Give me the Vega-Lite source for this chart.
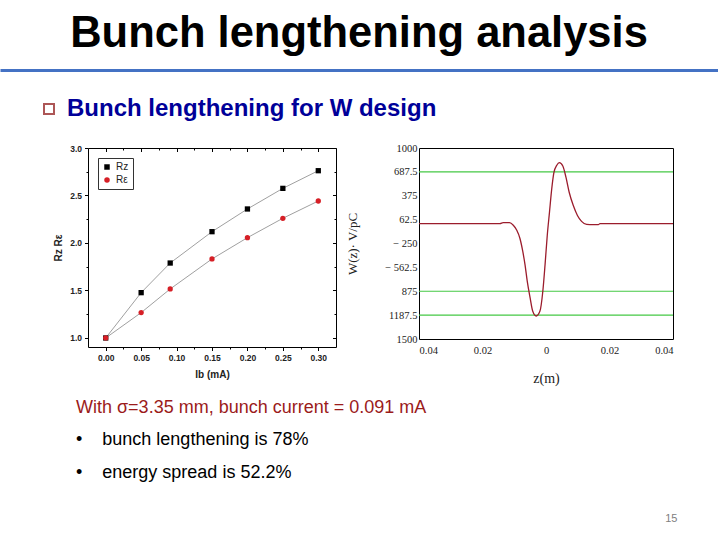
{
  "$schema": "https://vega.github.io/schema/vega-lite/v6.json",
  "background": "white",
  "padding": {"left": 0, "top": 11, "right": 0, "bottom": 0},
  "title": {"text": "Bunch lengthening analysis", "fontSize": 43.5, "fontWeight": "bold", "font": "Liberation Sans", "color": "black", "anchor": "middle", "offset": 14},
  "config": {"font": "Liberation Sans", "view": {"stroke": "black"}, "axis": {"grid": false}},
  "resolve": {"scale": {"shape": "independent", "color": "independent"}, "legend": {"shape": "independent", "color": "independent"}},
  "spacing": 21,
  "vconcat": [
    {
      "width": 718,
      "height": 0,
      "view": {"stroke": null},
      "data": {"values": [{"heading": "Bunch lengthening for W design"}]},
      "mark": {"type": "point", "size": 0, "color": "#8b1010", "strokeWidth": 2},
      "encoding": {
        "x": {"field": "heading", "type": "nominal", "axis": {"orient": "top", "domainColor": "#4472C4", "domainWidth": 3, "labels": false, "ticks": false, "title": null}},
        "shape": {"field": "heading", "type": "nominal", "scale": {"range": ["square"]},
          "legend": {"orient": "none", "legendX": 37, "legendY": 27, "title": null, "symbolSize": 100, "symbolStrokeColor": "#8b1010", "symbolFillColor": "white", "symbolStrokeWidth": 2, "labelFontSize": 24, "labelFont": "Liberation Sans", "labelFontWeight": "bold", "labelColor": "#000099", "labelLimit": 0, "labelOffset": 6}}
      }
    },
    {
      "spacing": 12,
      "resolve": {"scale": {"shape": "independent", "color": "independent"}, "legend": {"shape": "independent", "color": "independent"}},
      "vconcat": [
        {
          "spacing": 9,
          "resolve": {"scale": {"shape": "independent", "color": "independent"}, "legend": {"shape": "independent", "color": "independent"}},
          "hconcat": [
            {"width": 44, "height": 10, "view": {"stroke": null}, "data": {"values": []}, "mark": "point"},
            {
              "width": 248,
              "height": 199,
              "data": {"values": [
                {"ib": 0, "series": "Rz", "r": 1.0},
                {"ib": 0.05, "series": "Rz", "r": 1.477},
                {"ib": 0.091, "series": "Rz", "r": 1.789},
                {"ib": 0.15, "series": "Rz", "r": 2.119},
                {"ib": 0.2, "series": "Rz", "r": 2.358},
                {"ib": 0.25, "series": "Rz", "r": 2.575},
                {"ib": 0.3, "series": "Rz", "r": 2.761},
                {"ib": 0, "series": "Rε", "r": 1.0},
                {"ib": 0.05, "series": "Rε", "r": 1.267},
                {"ib": 0.091, "series": "Rε", "r": 1.516},
                {"ib": 0.15, "series": "Rε", "r": 1.832},
                {"ib": 0.2, "series": "Rε", "r": 2.056},
                {"ib": 0.25, "series": "Rε", "r": 2.26},
                {"ib": 0.3, "series": "Rε", "r": 2.442}
              ]},
              "resolve": {"axis": {"x": "independent", "y": "independent"}},
              "layer": [
                {"mark": {"type": "line", "color": "#a0a0a0", "strokeWidth": 1},
                  "encoding": {
                    "x": {"field": "ib", "type": "quantitative", "scale": {"domain": [-0.025, 0.325], "nice": false, "zero": false},
                      "axis": {"orient": "bottom", "values": [0, 0.025, 0.05, 0.075, 0.1, 0.125, 0.15, 0.175, 0.2, 0.225, 0.25, 0.275, 0.3], "labelExpr": "abs(datum.value*20 - round(datum.value*20)) < 0.001 ? format(datum.value, '.2f') : ''", "title": "Ib (mA)", "domain": false, "tickColor": "black", "tickSize": {"condition": {"test": "abs(datum.value*20 - round(datum.value*20)) < 0.001", "value": 3.5}, "value": 2}, "labelFontSize": 8.5, "labelFontWeight": "bold", "labelColor": "#222", "labelPadding": 3, "titleFontSize": 10, "titleFontWeight": "bold", "titleColor": "#222", "titlePadding": 7}},
                    "y": {"field": "r", "type": "quantitative", "scale": {"domain": [0.905, 3.0], "nice": false, "zero": false},
                      "axis": {"orient": "left", "values": [1, 1.25, 1.5, 1.75, 2, 2.25, 2.5, 2.75, 3], "labelExpr": "abs(datum.value*2 - round(datum.value*2)) < 0.001 ? format(datum.value, '.1f') : ''", "title": "Rz Rε", "domain": false, "tickColor": "black", "tickSize": {"condition": {"test": "abs(datum.value*2 - round(datum.value*2)) < 0.001", "value": 3.5}, "value": 2}, "labelFontSize": 8.5, "labelFontWeight": "bold", "labelColor": "#222", "labelPadding": 3, "titleFontSize": 10, "titleFontWeight": "bold", "titleColor": "#222", "titlePadding": 6}},
                    "detail": {"field": "series", "type": "nominal"}
                  }},
                {"mark": {"type": "point", "filled": true, "size": 28, "opacity": 1},
                  "encoding": {
                    "x": {"field": "ib", "type": "quantitative",
                      "axis": {"orient": "top", "values": [0, 0.025, 0.05, 0.075, 0.1, 0.125, 0.15, 0.175, 0.2, 0.225, 0.25, 0.275, 0.3], "labels": false, "title": null, "domain": false, "tickColor": "black", "tickSize": {"condition": {"test": "abs(datum.value*20 - round(datum.value*20)) < 0.001", "value": -3.5}, "value": -2}}},
                    "y": {"field": "r", "type": "quantitative",
                      "axis": {"orient": "right", "values": [1, 1.25, 1.5, 1.75, 2, 2.25, 2.5, 2.75, 3], "labels": false, "title": null, "domain": false, "tickColor": "black", "tickSize": {"condition": {"test": "abs(datum.value*2 - round(datum.value*2)) < 0.001", "value": -3.5}, "value": -2}}},
                    "color": {"field": "series", "type": "nominal", "scale": {"domain": ["Rz", "Rε"], "range": ["black", "#d61f26"]},
                      "legend": {"orient": "top-left", "offset": 10, "title": null, "strokeColor": "#333", "padding": 4, "labelFontSize": 10, "labelColor": "#222", "symbolSize": 30, "rowPadding": 3, "fillColor": "white"}},
                    "shape": {"field": "series", "type": "nominal", "scale": {"domain": ["Rz", "Rε"], "range": ["square", "circle"]}, "legend": null}
                  }}
              ]
            },
            {
              "width": 254,
              "height": 191,
              "encoding": {
                "y": {"field": "w", "type": "quantitative", "scale": {"domain": [-1500, 1000], "nice": false, "zero": false},
                  "axis": {"values": [1000, 687.5, 375, 62.5, -250, -562.5, -875, -1187.5, -1500], "labelExpr": "datum.value == -250 ? '− 250' : datum.value == -562.5 ? '− 562.5' : '' + abs(datum.value)", "title": "W(z)· V/pC", "domain": false, "ticks": false, "labelFont": "Liberation Serif", "labelFontSize": 10.5, "labelColor": "#222", "labelPadding": 2, "titleFont": "Liberation Serif", "titleFontSize": 13, "titleFontWeight": "normal", "titleColor": "#222", "titlePadding": 25}}
              },
              "layer": [
                {"data": {"values": [{"w": 687.5}, {"w": -875}, {"w": -1187.5}]}, "mark": {"type": "rule", "color": "#44c844", "strokeWidth": 1.2}},
                {"data": {"values": [
                  {"z": -0.04, "w": 10}, {"z": -0.0145, "w": 10}, {"z": -0.0135, "w": 22}, {"z": -0.0115, "w": 22},
                  {"z": -0.0103, "w": -12}, {"z": -0.0092, "w": -77}, {"z": -0.0082, "w": -184}, {"z": -0.0073, "w": -357},
                  {"z": -0.0066, "w": -530}, {"z": -0.0059, "w": -746}, {"z": -0.005, "w": -962}, {"z": -0.0042, "w": -1134},
                  {"z": -0.0031, "w": -1199}, {"z": -0.0019, "w": -1134}, {"z": -0.001, "w": -875}, {"z": -0.0003, "w": -530},
                  {"z": 0.0004, "w": -142}, {"z": 0.0011, "w": 161}, {"z": 0.0018, "w": 463}, {"z": 0.0025, "w": 680},
                  {"z": 0.0034, "w": 774}, {"z": 0.0042, "w": 809}, {"z": 0.0053, "w": 765}, {"z": 0.0063, "w": 615},
                  {"z": 0.0073, "w": 421}, {"z": 0.0086, "w": 247}, {"z": 0.0099, "w": 117}, {"z": 0.0112, "w": 40},
                  {"z": 0.0128, "w": 0}, {"z": 0.0149, "w": -3}, {"z": 0.0165, "w": -3}, {"z": 0.017, "w": 10}, {"z": 0.04, "w": 10}
                ]},
                  "mark": {"type": "line", "color": "#9b1c2c", "strokeWidth": 1.3, "interpolate": "monotone"},
                  "encoding": {
                    "x": {"field": "z", "type": "quantitative", "scale": {"domain": [-0.04, 0.04], "nice": false, "zero": false},
                      "axis": {"values": [-0.04, -0.02, 0, 0.02, 0.04], "labelExpr": "'' + abs(datum.value)", "labelFlush": true, "title": "z(m)", "domain": false, "ticks": false, "labelFont": "Liberation Serif", "labelFontSize": 10.5, "labelColor": "#222", "labelPadding": 6, "titleFont": "Liberation Serif", "titleFontSize": 14, "titleFontWeight": "normal", "titleColor": "#222", "titlePadding": 16}}
                  }}
              ]
            }
          ]
        },
        {
          "width": 677,
          "height": 5,
          "view": {"stroke": null},
          "title": {"text": "With σ=3.35 mm, bunch current = 0.091 mA", "subtitle": ["•\u00a0\u00a0\u00a0\u00a0bunch lengthening is 78%", "•\u00a0\u00a0\u00a0\u00a0energy spread is 52.2%"], "anchor": "start", "dx": 76, "fontSize": 18, "color": "#9b1b1b", "font": "Liberation Sans", "fontWeight": "normal", "subtitleFontSize": 18, "subtitleColor": "black", "subtitleFont": "Liberation Sans", "subtitlePadding": 14, "subtitleLineHeight": 33, "offset": 10},
          "data": {"values": [{"page": "15"}]},
          "mark": {"type": "point", "size": 0},
          "encoding": {
            "x": {"field": "page", "type": "nominal", "axis": {"domain": false, "ticks": false, "labels": false, "title": "15", "titleAnchor": "end", "titleColor": "#808080", "titleFontSize": 11, "titleFontWeight": "normal", "titlePadding": 14}}
          }
        }
      ]
    }
  ]
}
